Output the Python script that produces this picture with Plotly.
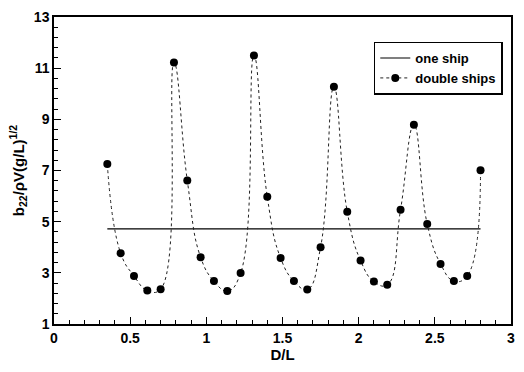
import plotly.graph_objects as go

# Data
x_double = [0.35, 0.4375, 0.525, 0.6125, 0.70, 0.7875, 0.875, 0.9625, 1.05, 1.1375,
            1.225, 1.3125, 1.40, 1.4875, 1.575, 1.6625, 1.75, 1.8375, 1.925, 2.0125,
            2.10, 2.1875, 2.275, 2.3625, 2.45, 2.5375, 2.625, 2.7125, 2.80]
y_double = [7.25, 3.77, 2.88, 2.31, 2.36, 11.22, 6.61, 3.61, 2.68, 2.29,
            2.99, 11.50, 5.97, 3.58, 2.68, 2.35, 4.00, 10.27, 5.39, 3.48,
            2.66, 2.53, 5.47, 8.79, 4.91, 3.35, 2.68, 2.88, 7.01]
x_single = [0.35, 2.80]
y_single = [4.72, 4.72]
x_ticks = [0, 0.5, 1, 1.5, 2, 2.5, 3]
x_ticklabels = ["0", "0.5", "1", "1.5", "2", "2.5", "3"]
y_ticks = [1, 3, 5, 7, 9, 11, 13]
y_ticklabels = ["1", "3", "5", "7", "9", "11", "13"]

FF = "Liberation Sans"

fig = go.Figure()
fig.add_trace(go.Scatter(
    x=x_single, y=y_single, mode="lines", name="<b>one ship</b>",
    line=dict(color="black", width=1.2),
))
fig.add_trace(go.Scatter(
    x=x_double, y=y_double, mode="lines+markers", name="<b>double ships</b>",
    line=dict(color="#222222", width=1, dash="dot", shape="spline", smoothing=1.3),
    marker=dict(color="black", size=8),
))

axis_common = dict(
    showgrid=False, zeroline=False, showline=True, linecolor="black", linewidth=1.5,
    mirror=True, ticks="inside", ticklen=7, tickwidth=1.2, tickcolor="black",
    tickfont=dict(family=FF, size=14, color="black", weight="bold"),
)

fig.update_xaxes(
    range=[0, 3], tickvals=x_ticks, ticktext=["<b>%s</b>" % t for t in x_ticklabels],
    minor=dict(dtick=0.1, ticks="inside", ticklen=4, tickcolor="black", tickwidth=1),
    title=dict(text="<b>D/L</b>", font=dict(family=FF, size=15, color="black", weight="bold"), standoff=4),
    **axis_common,
)
fig.update_yaxes(
    range=[1, 13], tickvals=y_ticks, ticktext=["<b>%s</b>" % t for t in y_ticklabels],
    minor=dict(dtick=0.4, tick0=1, ticks="inside", ticklen=4, tickcolor="black", tickwidth=1),
    title=dict(text="<b>b<sub>22</sub>/ρV(g/L)<sup>1/2</sup></b>",
               font=dict(family=FF, size=15, color="black", weight="bold"), standoff=6),
    **axis_common,
)

fig.update_layout(
    width=524, height=372,
    margin=dict(l=54, r=9, t=17, b=48),
    paper_bgcolor="white", plot_bgcolor="white",
    font=dict(family=FF, color="black"),
    showlegend=True,
    legend=dict(
        x=0.982, y=0.92, xanchor="right", yanchor="top",
        bordercolor="black", borderwidth=1.5, bgcolor="white",
        font=dict(family=FF, size=13, color="black", weight="bold"),
        tracegroupgap=0,
    ),
)

fig.write_html("out.html")
